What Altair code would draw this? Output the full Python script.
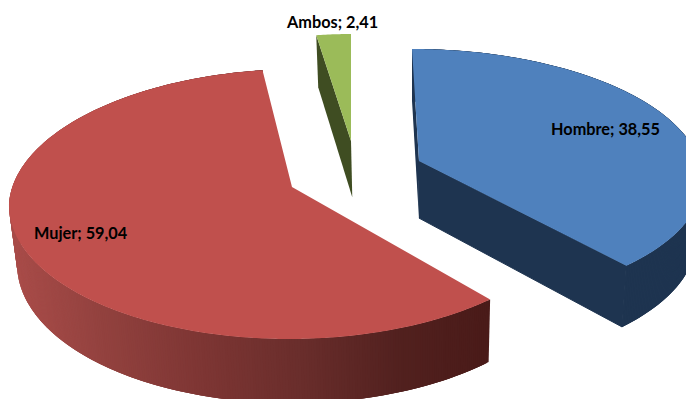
import altair as alt
import numpy as np
import pandas as pd

# Survey shares drawn as an exploded pseudo-3D pie
categories = ["Hombre", "Mujer", "Ambos"]
values = [38.55, 59.04, 2.41]

W, H = 686, 399
TOP = {"Hombre": "#4F81BD", "Mujer": "#C0504D", "Ambos": "#9BBB59"}
WALL = {"Hombre": "#1E3450", "Mujer": "#4A1B19", "Ambos": "#3F4D22"}

# Exploded disc geometry per slice: apex x/y, side radius, far and near radii, lean of far and near rim
DISC = {
    "Hombre": (419, 161, 283, 112, 142, -7, -10),
    "Mujer": (292, 187, 283, 118, 152, 9, 3),
    "Ambos": (351, 141, 256, 107, 150, 0, 0),
}
# Label anchors (left edge, vertical centre)
LABEL_AT = {"Hombre": (551, 130), "Mujer": (34, 234), "Ambos": (287, 23)}

# Side shading of the large slice, from its left rim to its right rim
SHADE_X = [16, 100, 200, 300, 400, 490]
SHADE_RGB = [(168, 76, 73), (147, 66, 63), (126, 54, 52), (106, 46, 44), (82, 33, 31), (74, 27, 25)]

X_ENC = alt.X("x:Q", scale=alt.Scale(domain=[0, W], nice=False, zero=False), axis=None)
Y_ENC = alt.Y("y:Q", scale=alt.Scale(domain=[H, 0], nice=False, zero=False), axis=None)


def rim(name, t0, t1, n=None):
    """Points on the top rim of a slice between two clockwise angles in degrees."""
    cx, cy, rx, far, near, lean_far, lean_near = DISC[name]
    n = n or max(2, int(abs(t1 - t0)) * 2)
    t = np.linspace(t0, t1, n)
    a = np.radians(t - 5.8 * np.sin(np.radians(t)))
    u, v = np.sin(a), np.cos(a)
    x = cx + rx * u + np.where(v > 0, lean_far, lean_near) * v
    y = cy + (near - far) / 2 - (near + far) / 2 * v
    return x, y


def drop(x, y):
    """Carry a top-face point down to the underside of the disc."""
    x, y = np.asarray(x, float), np.asarray(y, float)
    return 415 + 0.98 * (x - 415), y + 52 + 0.04 * (y - 35)


def shape(xs, ys, fill, edge=0):
    df = pd.DataFrame({"x": xs, "y": ys, "o": np.arange(len(xs))})
    return (
        alt.Chart(df)
        .mark_line(filled=True, fill=fill, stroke=fill, strokeWidth=edge, clip=True, interpolate="linear")
        .encode(x=X_ENC, y=Y_ENC, order="o:Q")
    )


def top_face(name, t0, t1):
    x, y = rim(name, t0, t1)
    cx, cy = DISC[name][:2]
    return shape(np.r_[cx, x], np.r_[cy, y], TOP[name])


def radial_wall(name, t, edge=0):
    x, y = rim(name, t, t, 2)
    cx, cy = DISC[name][:2]
    px, py = np.array([cx, x[0]]), np.array([cy, y[0]])
    bx, by = drop(px, py)
    return shape(np.r_[px, bx[::-1]], np.r_[py, by[::-1]], WALL[name], edge)


def outer_wall(name, t0, t1, shaded=False):
    """Side of the disc, swept as overlapping strips painted one after the other."""
    x, y = rim(name, t0, t1)
    bx, by = drop(x, y)
    rows = []
    for k in range(len(x) - 1):
        j = min(k + 3, len(x) - 1)
        mid = (x[k] + x[k + 1]) / 2
        if shaded:
            rgb = [int(np.interp(mid, SHADE_X, [c[i] for c in SHADE_RGB])) for i in range(3)]
            col = "#%02X%02X%02X" % tuple(rgb)
        else:
            col = WALL[name]
        quad = [(x[k], y[k]), (x[j], y[j]), (bx[j], by[j]), (bx[k], by[k])]
        for o, (qx, qy) in enumerate(quad):
            rows.append({"x": qx, "y": qy, "o": o, "k": k, "col": col})
    return (
        alt.Chart(pd.DataFrame(rows))
        .mark_line(filled=True, strokeWidth=0, clip=True, interpolate="linear")
        .encode(
            x=X_ENC,
            y=Y_ENC,
            order="o:Q",
            detail="k:O",
            fill=alt.Fill("col:N", scale=None),
        )
    )


edges = np.cumsum([0] + values) / sum(values) * 360
span = {c: (edges[i], edges[i + 1]) for i, c in enumerate(categories)}

layers = [
    outer_wall("Mujer", *span["Mujer"], shaded=True),
    top_face("Mujer", *span["Mujer"]),
    outer_wall("Hombre", *span["Hombre"]),
    radial_wall("Hombre", span["Hombre"][1], 1),
    radial_wall("Hombre", span["Hombre"][0]),
    top_face("Hombre", *span["Hombre"]),
    radial_wall("Ambos", span["Ambos"][0]),
    top_face("Ambos", *span["Ambos"]),
]

labels = pd.DataFrame(
    {
        "text": [f"{c}; {v:.2f}".replace(".", ",") for c, v in zip(categories, values)],
        "x": [LABEL_AT[c][0] for c in categories],
        "y": [LABEL_AT[c][1] for c in categories],
    }
)
label_layer = (
    alt.Chart(labels)
    .mark_text(font="Lato", fontWeight="bold", fontSize=16.3, align="left", baseline="middle", color="#000000")
    .encode(x=X_ENC, y=Y_ENC, text="text:N")
)

chart = (
    alt.layer(*layers, label_layer)
    .properties(width=W, height=H, padding=0, autosize=alt.AutoSizeParams(type="none"), background="#FFFFFF")
    .configure_view(stroke=None)
)

chart.save("out.html", embed_options={"renderer": "svg", "actions": False})
